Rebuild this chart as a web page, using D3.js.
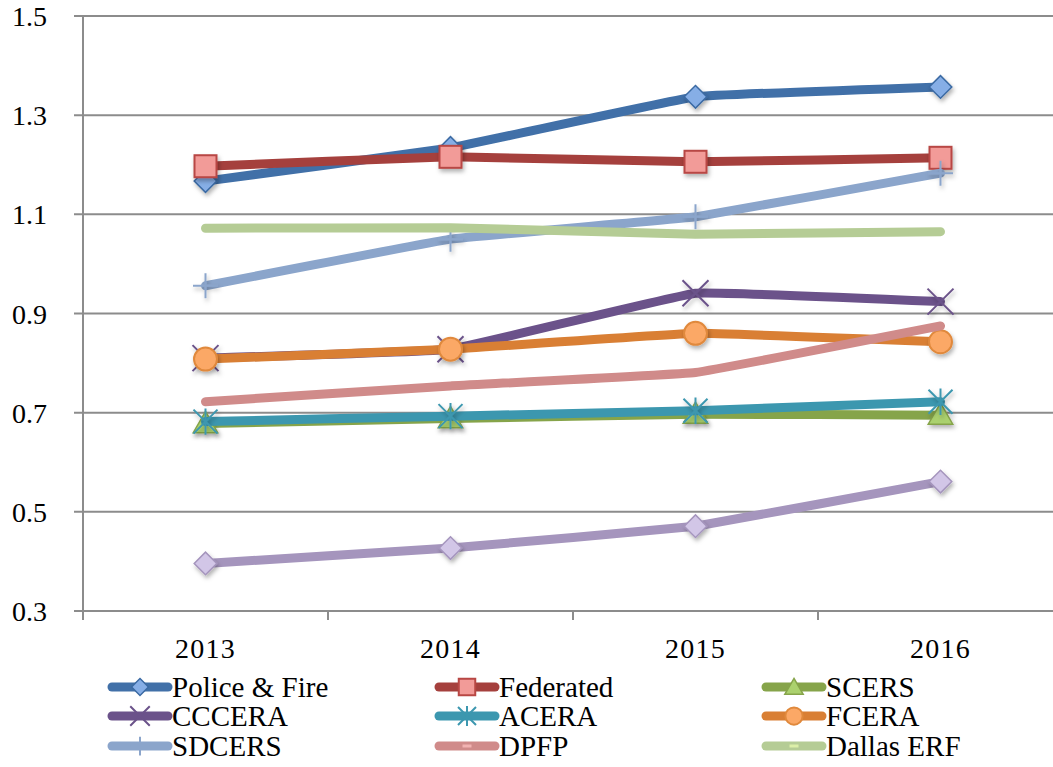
<!DOCTYPE html>
<html lang="en">
<head>
<meta charset="UTF-8">
<title>Funding ratios 2013-2016</title>
<style>
  body { margin: 0; background: #fff; }
  text { font-family: "Liberation Serif", "DejaVu Serif", serif; fill: #000; }
  .grid line { stroke: #8c8c8c; stroke-width: 2px; }
</style>
</head>
<body>
<div id="chart"></div>
<script src="https://d3js.org/d3.v7.min.js"></script>
<script>
// data
const years = ["2013", "2014", "2015", "2016"];
const yTicks = [0.3, 0.5, 0.7, 0.9, 1.1, 1.3, 1.5];

const policeFire = [1.167, 1.234, 1.337, 1.357];
const federated  = [1.197, 1.216, 1.206, 1.214];
const scers      = [0.678, 0.688, 0.697, 0.695];
const cccera     = [0.810, 0.828, 0.941, 0.924];
const acera      = [0.682, 0.693, 0.704, 0.722];
const fcera      = [0.808, 0.828, 0.860, 0.843];
const sdcers     = [0.956, 1.050, 1.095, 1.183];
const dpfp       = [0.722, 0.754, 0.781, 0.875];
const dallasErf  = [1.072, 1.073, 1.060, 1.065];
const other      = [0.396, 0.427, 0.471, 0.561]; // no legend entry

const series = [
  { name: "Police & Fire", values: policeFire, color: "#4170a8", marker: "diamond", fill: "#86aee6", stroke: "#3b6aa3", legend: true },
  { name: "Federated",     values: federated,  color: "#a5403d", marker: "square",  fill: "#f29b98", stroke: "#b84744", legend: true },
  { name: "SCERS",         values: scers,      color: "#86a44a", marker: "triangle",fill: "#abd16e", stroke: "#86a44a", legend: true },
  { name: "CCCERA",        values: cccera,     color: "#6b528a", marker: "x",       stroke: "#6b528a", legend: true },
  { name: "ACERA",         values: acera,      color: "#3c97af", marker: "star",    stroke: "#3c97af", legend: true },
  { name: "FCERA",         values: fcera,      color: "#d97f34", marker: "circle",  fill: "#fba866", stroke: "#e0893c", legend: true },
  { name: "SDCERS",        values: sdcers,     color: "#8ba5cb", marker: "plus",    stroke: "#8ba5cb", legend: true },
  { name: "DPFP",          values: dpfp,       color: "#d08b8a", marker: "dash",    stroke: "#f2b3b2", legend: true },
  { name: "Dallas ERF",    values: dallasErf,  color: "#b5cc95", marker: "dash",    stroke: "#dcefa8", legend: true },
  { name: "",              values: other,      color: "#a595bd", marker: "diamond", fill: "#d2c6e7", stroke: "#a595bd", legend: false }
];

const width = 1053, height = 767;
const plotLeft = 83, plotRight = 1063, plotTop = 16, plotBottom = 611;

const svg = d3.select("#chart").append("svg")
  .attr("width", width)
  .attr("height", height);

const defs = svg.append("defs");
const shadow = defs.append("filter").attr("id", "shadow")
  .attr("x", "-50%").attr("y", "-50%").attr("width", "200%").attr("height", "200%");
shadow.append("feDropShadow")
  .attr("dx", 1.5).attr("dy", 3).attr("stdDeviation", 2)
  .attr("flood-color", "#000").attr("flood-opacity", 0.3);

const x = d3.scaleBand().domain(years).range([plotLeft, plotRight]);
const y = d3.scaleLinear().domain([0.3, 1.5]).range([plotBottom, plotTop]);
const cx = d => x(d) + x.bandwidth() / 2;

// gridlines
svg.append("g").attr("class", "grid")
  .selectAll("line").data(yTicks).join("line")
  .attr("x1", plotLeft - 9).attr("x2", width)
  .attr("y1", d => y(d)).attr("y2", d => y(d));

// y axis line and x ticks
svg.append("line").attr("x1", plotLeft).attr("x2", plotLeft).attr("y1", plotTop).attr("y2", plotBottom + 9)
  .attr("stroke", "#8c8c8c").attr("stroke-width", 2);
svg.append("g").selectAll("line").data(years.slice(1)).join("line")
  .attr("x1", d => x(d)).attr("x2", d => x(d))
  .attr("y1", plotBottom).attr("y2", plotBottom + 9)
  .attr("stroke", "#8c8c8c").attr("stroke-width", 2);

// tick labels
svg.append("g").selectAll("text").data(yTicks).join("text")
  .attr("x", 47).attr("y", d => y(d) + 10)
  .attr("text-anchor", "end")
  .style("font-size", "28px")
  .text(d => d.toFixed(1));

svg.append("g").selectAll("text").data(years).join("text")
  .attr("x", d => cx(d)).attr("y", 658)
  .attr("text-anchor", "middle")
  .style("font-size", "28px")
  .style("letter-spacing", "1.3px")
  .text(d => d);

// marker drawing
function drawMarker(g, s, k) {
  switch (s.marker) {
    case "diamond":
      g.append("rect").attr("x", -8 * k).attr("y", -8 * k).attr("width", 16 * k).attr("height", 16 * k)
        .attr("transform", "rotate(45)")
        .attr("fill", s.fill).attr("stroke", s.stroke).attr("stroke-width", 1.5);
      break;
    case "square":
      g.append("rect").attr("x", -11 * k).attr("y", -11 * k).attr("width", 22 * k).attr("height", 22 * k)
        .attr("fill", s.fill).attr("stroke", s.stroke).attr("stroke-width", 2);
      break;
    case "triangle":
      g.append("path").attr("d", d3.symbol(d3.symbolTriangle, 260 * k * k)())
        .attr("transform", "translate(0,2)")
        .attr("fill", s.fill).attr("stroke", s.stroke).attr("stroke-width", 1.5);
      break;
    case "circle":
      g.append("circle").attr("r", 11.5 * k)
        .attr("fill", s.fill).attr("stroke", s.stroke).attr("stroke-width", 2);
      break;
    case "x": {
      const r = 13 * k;
      g.append("path").attr("d", `M${-r},${-r}L${r},${r}M${-r},${r}L${r},${-r}`)
        .attr("fill", "none").attr("stroke", s.stroke).attr("stroke-width", 2);
      break;
    }
    case "star": {
      const r = 12 * k;
      g.append("path").attr("d", `M${-r},${-r}L${r},${r}M${-r},${r}L${r},${-r}M0,${-r * 1.1}L0,${r * 1.1}`)
        .attr("fill", "none").attr("stroke", s.stroke).attr("stroke-width", 2);
      break;
    }
    case "plus": {
      const r = 12.5 * k;
      g.append("path").attr("d", `M${-r},0L${r},0M0,${-r}L0,${r}`)
        .attr("fill", "none").attr("stroke", s.stroke).attr("stroke-width", 2);
      break;
    }
    case "dash": {
      const r = 6 * k;
      g.append("path").attr("d", `M${-r},0L${r},0`)
        .attr("fill", "none").attr("stroke", s.stroke).attr("stroke-width", 3);
      break;
    }
  }
}

const line = d3.line()
  .x((d, i) => cx(years[i]))
  .y(d => y(d))
  .curve(d3.curveCardinal.tension(0.8));

series.forEach(s => {
  const g = svg.append("g");
  g.append("path")
    .attr("d", line(s.values))
    .attr("fill", "none")
    .attr("stroke", s.color)
    .attr("stroke-width", 9)
    .attr("stroke-linecap", "round")
    .attr("stroke-linejoin", "round");
  s.values.forEach((v, i) => {
    const m = g.append("g")
      .attr("transform", `translate(${cx(years[i])},${y(v)})`)
      .attr("filter", "url(#shadow)");
    drawMarker(m, s, 1);
  });
});

// legend
const legendCols = [112, 439, 766];
const legendRows = [687, 716, 746];
const legendItems = series.filter(s => s.legend);
legendItems.forEach((s, i) => {
  const lx = legendCols[i % 3], ly = legendRows[Math.floor(i / 3)];
  const g = svg.append("g").attr("transform", `translate(${lx},${ly})`);
  g.append("line").attr("x1", 0).attr("x2", 56).attr("y1", 0).attr("y2", 0)
    .attr("stroke", s.color).attr("stroke-width", 9).attr("stroke-linecap", "round");
  const m = g.append("g").attr("transform", "translate(28,0)");
  drawMarker(m, s, 0.75);
  g.append("text").attr("x", 60).attr("y", 10)
    .style("font-size", "29px")
    .text(s.name);
});
</script>
</body>
</html>
